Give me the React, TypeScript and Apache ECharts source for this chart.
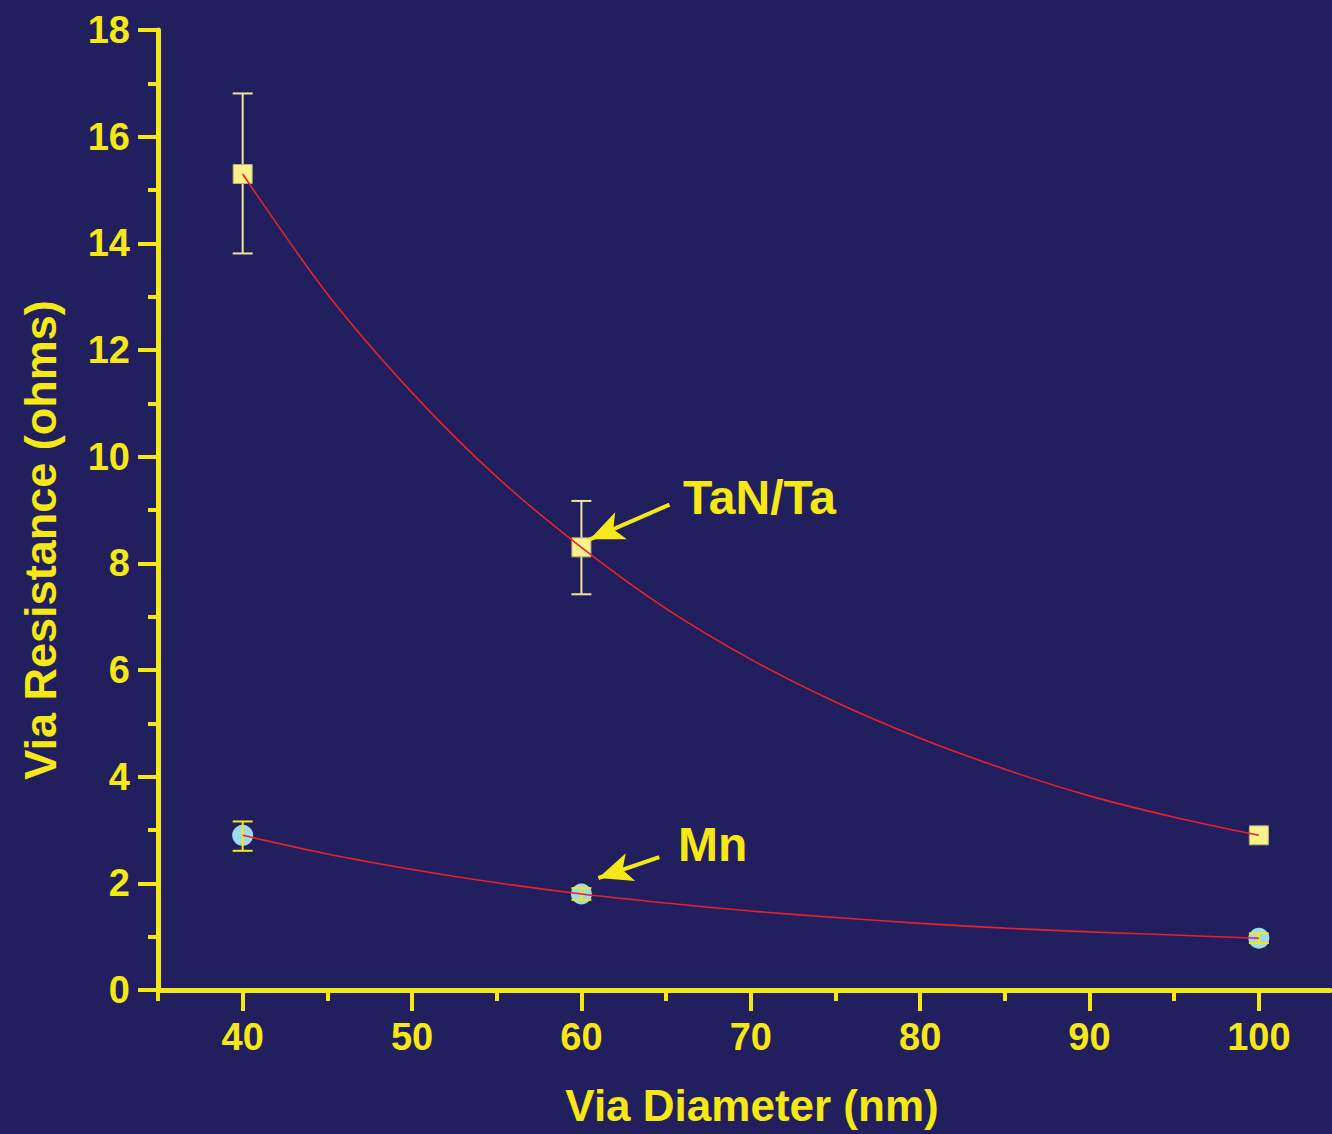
import React, { useEffect, useRef } from "react";
import * as echarts from "echarts";

// ---- data ----
const taX = [40, 60, 100];
const taY = [15.3, 8.3, 2.9];
const taLo = [13.81, 7.42, 2.85];
const taHi = [16.81, 9.17, 2.95];

const mnX = [40, 60, 100];
const mnY = [2.9, 1.8, 0.97];
const mnLo = [2.61, 1.69, 0.88];
const mnHi = [3.16, 1.91, 1.06];

// fitted curves
const fitX = [40, 45, 50, 55, 60, 65, 70, 75, 80, 85, 90, 95, 100];
const taFit = [15.3, 13.05, 11.2, 9.62, 8.3, 7.15, 6.2, 5.4, 4.72, 4.14, 3.64, 3.24, 2.9];
const mnFit = [2.9, 2.55, 2.26, 2.01, 1.8, 1.63, 1.48, 1.36, 1.25, 1.16, 1.09, 1.03, 0.97];

const xMajorTicks = [40, 50, 60, 70, 80, 90, 100];
const xMinorTicks = [35, 45, 55, 65, 75, 85, 95];

// annotations
const taLabelPos = [66.0, 9.24];
const taArrow = [[65.2, 9.1], [60.5, 8.45]];
const mnLabelPos = [65.7, 2.72];
const mnArrow = [[64.6, 2.49], [61.0, 2.1]];

const BG = "#211F5D";
const YELLOW = "#F6E815";
const RED = "#E8222A";
const FONT = "'Liberation Sans', Arial, Helvetica, sans-serif";

function errorBars(xs: number[], lo: number[], hi: number[], color: string, z: number) {
  return {
    type: "custom",
    z,
    silent: true,
    data: xs.map((x, i) => [x, lo[i], hi[i]]),
    renderItem: (_params: any, api: any) => {
      const top = api.coord([api.value(0), api.value(2)]);
      const bot = api.coord([api.value(0), api.value(1)]);
      const w = 10;
      const style = { stroke: color, lineWidth: 2 };
      return {
        type: "group",
        children: [
          { type: "line", shape: { x1: top[0], y1: top[1], x2: bot[0], y2: bot[1] }, style },
          { type: "line", shape: { x1: top[0] - w, y1: top[1], x2: top[0] + w, y2: top[1] }, style },
          { type: "line", shape: { x1: bot[0] - w, y1: bot[1], x2: bot[0] + w, y2: bot[1] }, style },
        ],
      };
    },
  };
}

function annotation(pos: number[], text: string) {
  return {
    coord: pos,
    symbol: "circle",
    symbolSize: 0,
    label: {
      show: true,
      position: "right",
      distance: 0,
      formatter: text,
      color: YELLOW,
      fontSize: 48,
      fontWeight: "bold",
      fontFamily: FONT,
    },
  };
}

export default function App() {
  const ref = useRef<HTMLDivElement>(null);
  useEffect(() => {
    document.body.style.margin = "0";
    document.body.style.background = BG;
    const chart = echarts.init(ref.current!, null, { renderer: "svg" });
    const tickLabel = {
      color: YELLOW,
      fontSize: 38,
      fontWeight: "bold",
      fontFamily: FONT,
    };
    chart.setOption({
      animation: false,
      backgroundColor: BG,
      grid: { left: 158, right: 2, top: 30, bottom: 144 },
      xAxis: [
        {
          type: "value",
          min: 35,
          max: 104.2,
          interval: 5,
          name: "Via Diameter (nm)",
          nameLocation: "middle",
          nameGap: 93,
          nameTextStyle: {
            color: YELLOW,
            fontSize: 44,
            fontWeight: "bold",
            fontFamily: FONT,
            padding: [0, 0, 0, 16],
          },
          axisLine: { show: true, onZero: false, lineStyle: { color: YELLOW, width: 5 } },
          axisTick: { show: true, length: 21, customValues: xMajorTicks, lineStyle: { color: YELLOW, width: 4 } },
          axisLabel: { ...tickLabel, margin: 28, customValues: xMajorTicks },
          splitLine: { show: false },
        },
        {
          type: "value",
          min: 35,
          max: 104.2,
          interval: 5,
          position: "bottom",
          axisLine: { show: false },
          axisTick: { show: true, length: 11, customValues: xMinorTicks, lineStyle: { color: YELLOW, width: 4 } },
          axisLabel: { show: false },
          splitLine: { show: false },
        },
      ],
      yAxis: {
        type: "value",
        min: 0,
        max: 18,
        interval: 2,
        name: "Via Resistance (ohms)",
        nameLocation: "middle",
        nameRotate: 90,
        nameGap: 95,
        nameTextStyle: {
          color: YELLOW,
          fontSize: 45,
          fontWeight: "bold",
          fontFamily: FONT,
          padding: [0, 60, 0, 0],
        },
        axisLine: { show: true, onZero: false, lineStyle: { color: YELLOW, width: 5 } },
        axisTick: { show: true, length: 20, lineStyle: { color: YELLOW, width: 4 } },
        minorTick: { show: true, splitNumber: 2, length: 10, lineStyle: { color: YELLOW, width: 4 } },
        axisLabel: { ...tickLabel, margin: 28 },
        splitLine: { show: false },
        minorSplitLine: { show: false },
      },
      series: [
        errorBars(taX, taLo, taHi, "#EFE4A0", 1),
        {
          type: "scatter",
          z: 2,
          symbol: "rect",
          symbolSize: 19,
          itemStyle: { color: "#FCF18A", borderColor: "#B8AE80", borderWidth: 1, opacity: 1 },
          data: taX.map((x, i) => [x, taY[i]]),
        },
        {
          type: "scatter",
          z: 2,
          symbol: "circle",
          symbolSize: 21,
          itemStyle: { color: "#9FDAE8", opacity: 1 },
          data: mnX.map((x, i) => [x, mnY[i]]),
        },
        errorBars(mnX, mnLo, mnHi, YELLOW, 3),
        {
          type: "line",
          z: 4,
          smooth: 0.3,
          showSymbol: false,
          symbol: "none",
          lineStyle: { color: RED, width: 1.6 },
          data: fitX.map((x, i) => [x, taFit[i]]),
          markLine: {
            silent: true,
            symbol: ["none", "arrow"],
            symbolSize: [22, 34],
            label: { show: false },
            lineStyle: { color: YELLOW, width: 4, type: "solid" },
            data: [
              [{ coord: taArrow[0] }, { coord: taArrow[1] }],
              [{ coord: mnArrow[0] }, { coord: mnArrow[1] }],
            ],
          },
          markPoint: {
            silent: true,
            data: [annotation(taLabelPos, "TaN/Ta"), annotation(mnLabelPos, "Mn")],
          },
        },
        {
          type: "line",
          z: 4,
          smooth: 0.3,
          showSymbol: false,
          symbol: "none",
          lineStyle: { color: RED, width: 1.6 },
          data: fitX.map((x, i) => [x, mnFit[i]]),
        },
      ],
    });
    return () => chart.dispose();
  }, []);
  return (
    <div
      ref={ref}
      style={{ position: "absolute", left: 0, top: 0, width: 1332, height: 1134 }}
    />
  );
}
